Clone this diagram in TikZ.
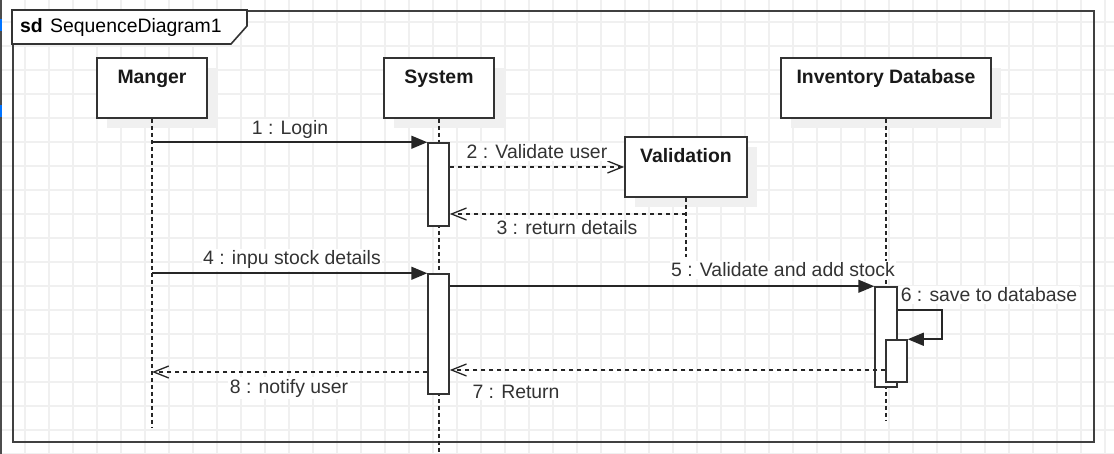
\documentclass[tikz,border=0pt]{standalone}
\usepackage{fontspec}
\setmainfont{Liberation Sans}
\usetikzlibrary{arrows.meta,shadows,calc}
\begin{document}
\begin{tikzpicture}[x=1pt,y=-1pt,
  every node/.style={font=\fontsize{19.4}{23}\selectfont},
  gridline/.style={line width=1.3pt, draw=black!6},
  box/.style={draw=black!80, line width=1.6pt, fill=white, inner sep=0pt,
    minimum height=60pt,
    drop shadow={shadow xshift=10pt, shadow yshift=-10pt, fill=black!6, opacity=1}},
  title/.style={font=\fontsize{19.4}{23}\selectfont\bfseries, text=black!90, inner sep=0pt, anchor=base},
  act/.style={draw=black!80, line width=1.5pt, fill=white, inner sep=0pt, minimum width=21pt},
  life/.style={draw=black!85, line width=1.3pt, dash pattern=on 4pt off 3pt},
  sync/.style={draw=black!85, line width=1.5pt, -{Triangle[length=16pt, width=13pt]}},
  ret/.style={draw=black!85, line width=1.3pt, dash pattern=on 4.5pt off 3.5pt,
    -{Straight Barb[length=15pt, width=12pt, line width=1.3pt]}},
  lbl/.style={fill=white, inner sep=1.5pt, text=black!80, anchor=base}
]
\useasboundingbox (0,0) rectangle (1114,454);
% background grid
\fill[white] (0,0) rectangle (1114,454);
\foreach \i in {0,...,46} \draw[gridline] (1+24*\i,0) -- (1+24*\i,454);
\foreach \j in {0,...,18} \draw[gridline] (0,22+24*\j) -- (1114,22+24*\j);
% left edge of the screenshot
\draw[black!70, line width=2pt] (1,0) -- (1,454);
\draw[blue!55!cyan, line width=2pt] (1,19) -- (1,31);
\draw[blue!55!cyan, line width=2pt] (1,105) -- (1,117);
% frame
\node[draw=black!75, line width=2pt, minimum width=1081pt, minimum height=431pt,
  anchor=north west, inner sep=0pt] (frame) at (12,10) {};
\draw[draw=black!80, line width=1.6pt, fill=white]
  (12,10) -- (247,10) -- (247,26) -- (231,44) -- (12,44) -- cycle;
\node[anchor=base west, inner sep=0pt, font=\fontsize{19.4}{23}\selectfont\bfseries] (sd) at (20,33) {sd};
\node[anchor=base west, inner sep=0pt] (sdname) at (50,33) {SequenceDiagram1};
% lifeline ends
\coordinate (manEnd) at (152,427);
\coordinate (sysEnd) at (439,454);
\coordinate (valEnd) at (686,257);
\coordinate (invEnd) at (886,420);
% boxes
\node[box, minimum width=110pt] (manger) at (152,88) {};
\node[box, minimum width=110pt] (system) at (439,88) {};
\node[box, minimum width=122pt] (val) at (686,167) {};
\node[box, minimum width=210pt] (inv) at (886,88) {};
% lifelines
\draw[life] (manger.south) -- (manEnd);
\draw[life] (system.south) -- (sysEnd);
\draw[life] (val.south) -- (valEnd);
\draw[life] (inv.south) -- (invEnd);
% box titles
\node[title] (mangerT) at (152,84) {Manger};
\node[title] (systemT) at (439,84) {System};
\node[title] (valT) at (686,163) {Validation};
\node[title] (invT) at (886,84) {Inventory Database};
% activations
\node[act, minimum height=83pt] (act1) at (438.5,184.5) {};
\node[act, minimum height=120pt] (act2) at (438.5,334) {};
\node[act, minimum width=22pt, minimum height=100pt] (act3) at (886,337) {};
\node[act, minimum height=42pt] (act4) at (896.5,361) {};
% message levels
\coordinate (m3) at (0,214);
\coordinate (m6) at (0,310);
\coordinate (m7) at (0,370);
\coordinate (m8) at (0,372);
% messages
\draw[sync] (manger.south |- act1.north) -- (act1.north west);
\draw[ret] (act1.east |- val.west) -- (val.west);
\draw[ret] (val.south |- m3) -- (act1.east |- m3);
\draw[sync] (manger.south |- act2.north) -- (act2.north west);
\draw[sync] (act2.east |- act3.north) -- (act3.north west);
\draw[sync] (act3.east |- m6) -- ++(44,0) |- (act4.north east);
\draw[ret] (act4.west |- m7) -- (act2.east |- m7);
\draw[ret] (act2.west |- m8) -- (manger.south |- m8);
% labels
\node[lbl] (l1) at (290,135) {1 : Login};
\node[lbl] (l2) at (537,159) {2 : Validate user};
\node[lbl] (l3) at (567,235) {3 : return details};
\node[lbl] (l4) at (292,265) {4 : inpu stock details};
\node[lbl] (l5) at (783,277) {5 : Validate and add stock};
\node[lbl] (l6) at (989,302) {6 : save to database};
\node[lbl] (l7) at (516,398) {7 : Return};
\node[lbl] (l8) at (289,393) {8 : notify user};
\end{tikzpicture}
\end{document}
